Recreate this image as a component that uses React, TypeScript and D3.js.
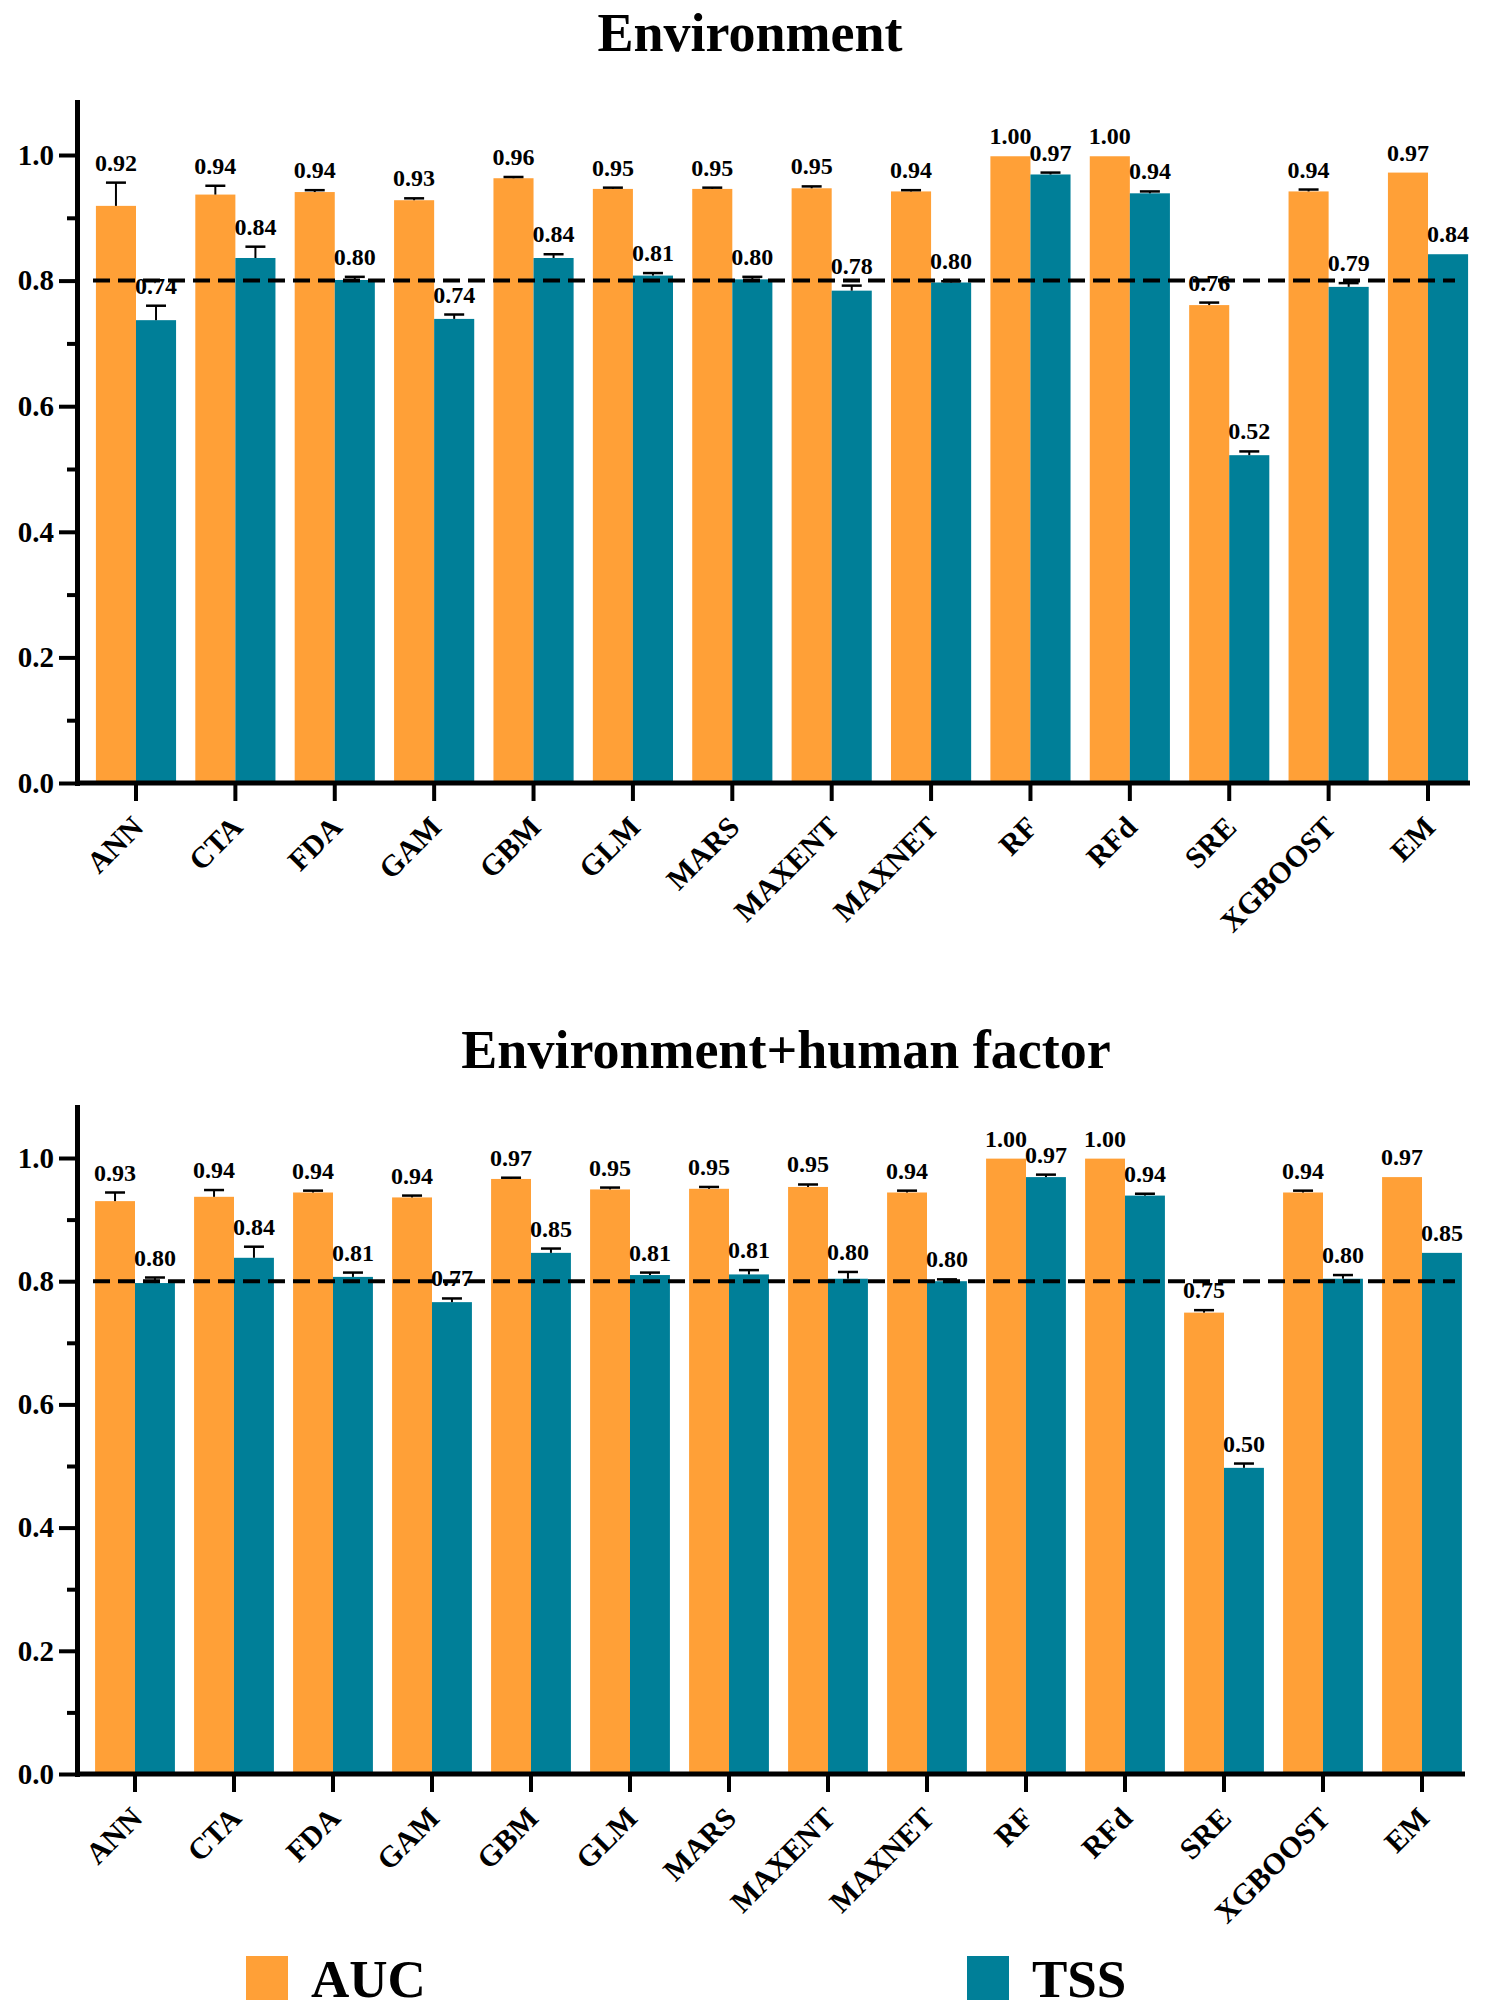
import React, {useEffect, useRef} from 'react';
import * as d3 from 'd3';

// models on the x axis, same order in both panels
const models = ['ANN', 'CTA', 'FDA', 'GAM', 'GBM', 'GLM', 'MARS', 'MAXENT', 'MAXNET', 'RF', 'RFd', 'SRE', 'XGBOOST', 'EM'];
const metrics = ['AUC', 'TSS'];
const metricColors = ['#FFA037', '#007F98'];

// panel 1: Environment
const envAUC = [0.919, 0.937, 0.941, 0.928, 0.963, 0.946, 0.946, 0.947, 0.942, 0.998, 0.998, 0.761, 0.942, 0.972];
const envAUCErr = [0.037, 0.014, 0.003, 0.003, 0.002, 0.002, 0.002, 0.003, 0.002, 0, 0, 0.004, 0.003, 0];
const envTSS = [0.737, 0.836, 0.801, 0.739, 0.836, 0.808, 0.802, 0.784, 0.797, 0.969, 0.939, 0.522, 0.790, 0.842];
const envTSSErr = [0.023, 0.018, 0.005, 0.007, 0.006, 0.004, 0.004, 0.008, 0.002, 0.003, 0.003, 0.006, 0.006, 0];

// panel 2: Environment+human factor
const humAUC = [0.930, 0.937, 0.944, 0.936, 0.966, 0.949, 0.950, 0.953, 0.944, 0.999, 0.999, 0.749, 0.944, 0.969];
const humAUCErr = [0.014, 0.011, 0.003, 0.003, 0.002, 0.003, 0.003, 0.004, 0.003, 0, 0, 0.004, 0.003, 0];
const humTSS = [0.797, 0.838, 0.807, 0.766, 0.846, 0.810, 0.811, 0.804, 0.800, 0.969, 0.939, 0.497, 0.804, 0.846];
const humTSSErr = [0.009, 0.018, 0.007, 0.006, 0.007, 0.004, 0.007, 0.011, 0.003, 0.004, 0.003, 0.007, 0.006, 0];

const yMajorTicks = [0, 0.2, 0.4, 0.6, 0.8, 1.0];
const yMinorTicks = [0.1, 0.3, 0.5, 0.7, 0.9];
const threshold = 0.8;

const FONT = "'Liberation Serif', 'Times New Roman', serif";

interface IPanel {
    title: string,
    series: number[][],
    errors: number[][],
    titleX: number,
    titleY: number,
    y0: number,
    yEnd: number,
    yTop: number,
    axisX: number,
    axisEndX: number,
    bandStart: number,
    bandEnd: number
}

const panels: IPanel[] = [
    {
        title: 'Environment', series: [envAUC, envTSS], errors: [envAUCErr, envTSSErr],
        titleX: 750, titleY: 51, y0: 783, yEnd: 102, yTop: 1.0844,
        axisX: 77, axisEndX: 1470, bandStart: 86.3, bandEnd: 1477.7
    },
    {
        title: 'Environment+human factor', series: [humAUC, humTSS], errors: [humAUCErr, humTSSErr],
        titleX: 786, titleY: 1068, y0: 1774, yEnd: 1107, yTop: 1.0828,
        axisX: 77, axisEndX: 1465, bandStart: 85.5, bandEnd: 1471.5
    }
];

function drawPanel(svg: any, p: IPanel) {
    const g = svg.append('g');

    const y = d3.scaleLinear().domain([0, p.yTop]).range([p.y0, p.yEnd]);
    const x0 = d3.scaleBand().domain(models).range([p.bandStart, p.bandEnd]);
    const x1 = d3.scaleBand().domain(metrics).range([0, x0.bandwidth()]).paddingOuter(0.24);

    //title
    g.append('text')
        .attr('x', p.titleX)
        .attr('y', p.titleY)
        .attr('text-anchor', 'middle')
        .attr('font-family', FONT)
        .attr('font-weight', 'bold')
        .attr('font-size', 54)
        .text(p.title);

    //bars
    metrics.forEach((m, k) => {
        const vals = p.series[k];
        const errs = p.errors[k];
        g.append('g').selectAll('rect')
            .data(models)
            .enter().append('rect')
            .attr('x', (d: string) => (x0(d) as number) + (x1(m) as number))
            .attr('y', (d: string, i: number) => y(vals[i]))
            .attr('width', x1.bandwidth())
            .attr('height', (d: string, i: number) => y(0) - y(vals[i]))
            .attr('fill', metricColors[k]);

        //error bars (upper half only)
        models.forEach((d, i) => {
            const cx = (x0(d) as number) + (x1(m) as number) + x1.bandwidth() / 2;
            const top = y(vals[i] + errs[i]);
            if (errs[i] > 0) {
                g.append('line')
                    .attr('x1', cx).attr('x2', cx)
                    .attr('y1', y(vals[i])).attr('y2', top)
                    .attr('stroke', 'black').attr('stroke-width', 2);
                g.append('line')
                    .attr('x1', cx - 10).attr('x2', cx + 10)
                    .attr('y1', top).attr('y2', top)
                    .attr('stroke', 'black').attr('stroke-width', 2.5);
            }
            g.append('text')
                .attr('x', cx)
                .attr('y', top - 12)
                .attr('text-anchor', 'middle')
                .attr('font-family', FONT)
                .attr('font-weight', 'bold')
                .attr('font-size', 24)
                .text(vals[i].toFixed(2));
        });
    });

    //y axis, major and minor ticks
    const yAxis = g.append('g')
        .attr('transform', `translate(${p.axisX},0)`)
        .call(d3.axisLeft(y).tickValues(yMajorTicks).tickSize(18).tickSizeOuter(0).tickPadding(5)
            .tickFormat(d3.format('.1f')));
    yAxis.select('.domain').attr('stroke-width', 5).attr('stroke-linecap', 'square');
    yAxis.selectAll('.tick line').attr('stroke-width', 4);
    yAxis.selectAll('.tick text')
        .attr('font-family', FONT)
        .attr('font-weight', 'bold')
        .attr('font-size', 29)
        .attr('fill', 'black');

    const yMinor = g.append('g')
        .attr('transform', `translate(${p.axisX},0)`)
        .call(d3.axisLeft(y).tickValues(yMinorTicks).tickSize(10).tickSizeOuter(0).tickFormat(() => ''));
    yMinor.select('.domain').remove();
    yMinor.selectAll('.tick line').attr('stroke-width', 4);

    //x axis
    g.append('line')
        .attr('x1', p.axisX).attr('x2', p.axisEndX)
        .attr('y1', p.y0).attr('y2', p.y0)
        .attr('stroke', 'black').attr('stroke-width', 5);

    const xAxis = g.append('g')
        .attr('transform', `translate(0,${p.y0})`)
        .call(d3.axisBottom(x0).tickSize(18).tickSizeOuter(0));
    xAxis.select('.domain').remove();
    xAxis.selectAll('.tick line').attr('stroke-width', 4);
    xAxis.selectAll('.tick text')
        .attr('x', 9)
        .attr('y', 46)
        .attr('dy', 0)
        .attr('transform', 'rotate(-45, 9, 46)')
        .attr('text-anchor', 'end')
        .attr('font-family', FONT)
        .attr('font-weight', 'bold')
        .attr('font-size', 30)
        .attr('fill', 'black');

    //threshold line, drawn over the bars
    g.append('line')
        .attr('x1', 93).attr('x2', 1455)
        .attr('y1', y(threshold)).attr('y2', y(threshold))
        .attr('stroke', 'black')
        .attr('stroke-width', 4)
        .attr('stroke-dasharray', '17,8');
}

export default function App() {
    const ref = useRef<SVGSVGElement>(null);

    useEffect(() => {
        const svg = d3.select(ref.current);
        svg.selectAll('*').remove();

        panels.forEach(p => drawPanel(svg, p));

        //legend
        const legendX = [246, 967];
        const legend = svg.append('g');
        metrics.forEach((m, k) => {
            legend.append('rect')
                .attr('x', legendX[k]).attr('y', 1956)
                .attr('width', 42).attr('height', 44)
                .attr('fill', metricColors[k]);
            legend.append('text')
                .attr('x', legendX[k] + 65).attr('y', 1997)
                .attr('font-family', FONT)
                .attr('font-weight', 'bold')
                .attr('font-size', 53)
                .text(m);
        });
    }, []);

    return (
        <svg ref={ref} width={1489} height={2014}
             style={{position: 'absolute', left: 0, top: 0, background: 'white'}}/>
    );
}
